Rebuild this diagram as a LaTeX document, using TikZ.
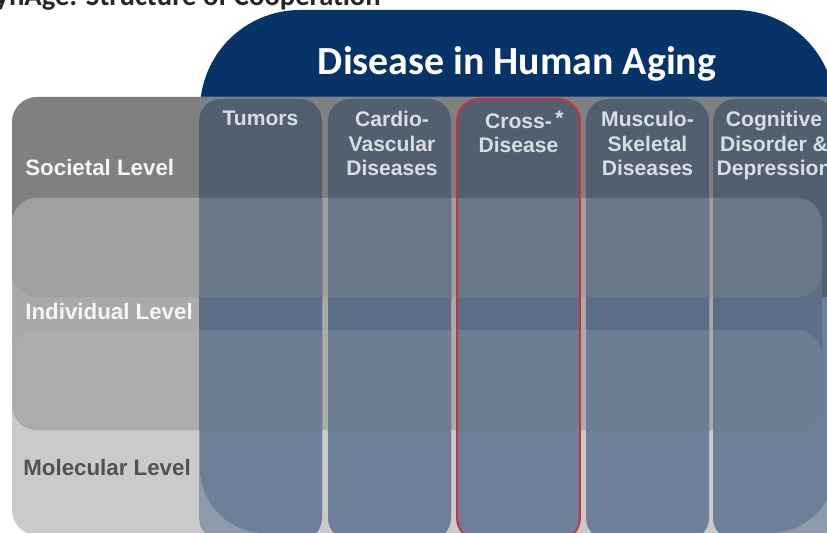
\documentclass[tikz,border=0pt]{standalone}
\usepackage{fontspec}
\setmainfont{Liberation Sans}
\newfontfamily\calibri{Carlito}
\usepackage{tikz}
\usepackage{xcolor}
\definecolor{agingnavy}{RGB}{6, 52, 104}
\definecolor{bandsoc}{RGB}{128, 128, 128}
\definecolor{bandind}{RGB}{169, 169, 169}
\definecolor{bandindsoc}{RGB}{160, 160, 160}
\definecolor{bandindmol}{RGB}{172, 172, 172}
\definecolor{bandmol}{RGB}{202, 202, 202}
\definecolor{colsoc}{RGB}{82, 95, 111}
\definecolor{colindsoc}{RGB}{107, 120, 137}
\definecolor{colind}{RGB}{93, 111, 136}
\definecolor{colindmol}{RGB}{109, 126, 147}
\definecolor{colmol}{RGB}{110, 128, 153}
\definecolor{colout}{RGB}{139, 155, 171}
\definecolor{crossred}{RGB}{200, 50, 60}
\definecolor{collabeltext}{RGB}{216, 221, 227}

\begin{document}
\begin{tikzpicture}[x=0.02cm, y=-0.02cm, every node/.style={inner sep=0pt},
  collabel/.style={anchor=north, align=center, text=collabeltext, font=\bfseries\fontsize{12}{13.9}\selectfont},
  levellabel/.style={anchor=base west, text=white!96!black, font=\bfseries\fontsize{12.7}{15}\selectfont},
  band/.style={rounded corners=0.5cm}]
\useasboundingbox (0,0) rectangle (827,533);
\clip (0,0) rectangle (827,533);

% slide heading, cut at the top
\node[anchor=base east, font=\calibri\bfseries\fontsize{16.3}{19}\selectfont, text=black!85] (heading) at (381,6) {SynAge: Structure of Cooperation};

% navy block
\fill[agingnavy, rounded corners=2cm] (200,10) rectangle (835,300);
\fill[agingnavy, rounded corners=1.3cm] (200,200) rectangle (835,533);

% level bands
\fill[bandmol, band] (12,97) rectangle (850,535);
\fill[bandsoc, band] (12,97) rectangle (850,297);
\fill[bandind, band] (12,198) rectangle (822,430);
\fill[bandindsoc, band] (12,198) rectangle (822,297);
\fill[bandindmol, band] (12,330) rectangle (822,430);

% disease columns
\begin{scope}
\clip[rounded corners=0.44cm] (199,99) rectangle ++(123,441) (328,99) rectangle ++(123,441)
  (457,99) rectangle ++(123,441) (586,99) rectangle ++(123,441) (713,99) rectangle ++(123,441);
\fill[colout] (0,0) rectangle (900,600);
\fill[colmol, rounded corners=2cm] (200,10) rectangle (835,300);
\fill[colmol, rounded corners=1.3cm] (200,200) rectangle (835,533);
\fill[colsoc, band] (12,97) rectangle (850,297);
\fill[colind, band] (12,198) rectangle (822,430);
\fill[colindsoc, band] (12,198) rectangle (822,297);
\fill[colindmol, band] (12,330) rectangle (822,430);
\end{scope}
\draw[crossred, line width=1.1pt, rounded corners=0.44cm] (457,99) rectangle ++(123,441);

\node[anchor=base, text=white, font=\calibri\bfseries\fontsize{22.7}{27}\selectfont] (title) at (517,75) {Disease in Human Aging};

\node[collabel] (tumors) at (260.5,111) {Tumors};
\node[collabel] (cardio) at (392,111) {Cardio-\\Vascular\\Diseases};
\node[collabel] (cross) at (518.5,111) {Cross-\rlap{\,\raisebox{1.5pt}{*}}\\Disease};
\node[collabel] (musculo) at (647.5,111) {Musculo-\\Skeletal\\Diseases};
\node[collabel] (cognitive) at (774,111) {Cognitive\\Disorder \&\\Depression};

\node[levellabel] (societal) at (25,176) {Societal Level};
\node[levellabel] (individual) at (25,319) {Individual Level};
\node[levellabel, text=black!68] (molecular) at (23,475) {Molecular Level};
\end{tikzpicture}
\end{document}
